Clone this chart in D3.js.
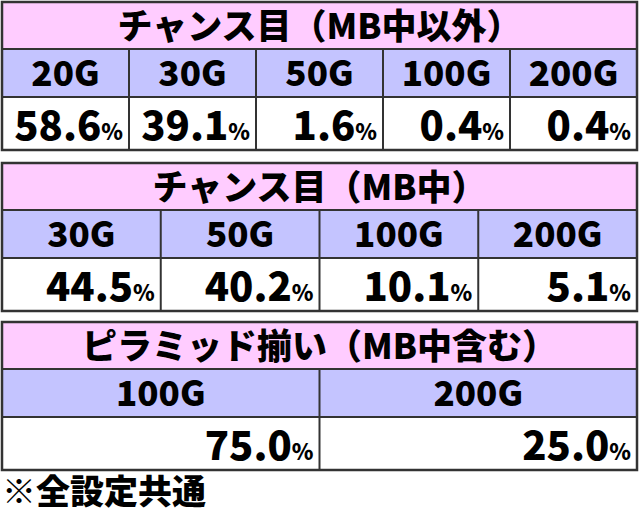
<!DOCTYPE html><html><head><meta charset="utf-8">
<script src="https://cdn.jsdelivr.net/npm/d3@7"></script>
<style>body{margin:0;background:#fff}</style></head><body>
<svg id="c" width="640" height="515"></svg>
<script>
const titles=["チャンス目（MB中以外）","チャンス目（MB中）","ピラミッド揃い（MB中含む）"];
const cats1=["20G","30G","50G","100G","200G"], vals1=[58.6,39.1,1.6,0.4,0.4];
const cats2=["30G","50G","100G","200G"], vals2=[44.5,40.2,10.1,5.1];
const cats3=["100G","200G"], vals3=[75.0,25.0];
const tops=[2,163,322];
const note="※全設定共通";
const svg=d3.select("#c");
const font="'Noto Sans CJK JP','Noto Sans',sans-serif";
const x=d3.scaleLinear().domain([0,1]).range([2,637]);
const tables=[[cats1,vals1],[cats2,vals2],[cats3,vals3]];
tables.forEach(([cats,vals],i)=>{
  const y0=tops[i];
  const g=svg.append("g");
  const band=d3.scaleBand().domain(cats).range([x(0),x(1)]);
  const rows=[y0,y0+47,y0+95,y0+148];
  g.append("rect").attr("x",x(0)).attr("y",rows[0]).attr("width",x(1)-x(0)).attr("height",rows[1]-rows[0]).attr("fill","#ffccff");
  g.append("rect").attr("x",x(0)).attr("y",rows[1]).attr("width",x(1)-x(0)).attr("height",rows[2]-rows[1]).attr("fill","#c4c4ff");
  g.append("rect").attr("x",x(0)).attr("y",rows[2]).attr("width",x(1)-x(0)).attr("height",rows[3]-rows[2]).attr("fill","#fff");
  g.append("text").attr("x",(x(0)+x(1))/2).attr("y",rows[0]+37).attr("text-anchor","middle")
    .attr("font-family",font).attr("font-weight",900).attr("font-size",35).text(titles[i]);
  cats.forEach((c,j)=>{
    const bx=band(c),bw=band.bandwidth();
    g.append("text").attr("x",bx+bw/2).attr("y",rows[1]+37).attr("text-anchor","middle")
      .attr("font-family",font).attr("font-weight",900).attr("font-size",35).text(c);
    const t=g.append("text").attr("x",bx+bw-6).attr("y",rows[2]+43).attr("text-anchor","end")
      .attr("font-family",font).attr("font-weight",900);
    t.append("tspan").attr("font-size",40).text(vals[j].toFixed(1));
    t.append("tspan").attr("font-size",22).text("%");
    if(j>0) g.append("line").attr("x1",bx).attr("x2",bx).attr("y1",rows[1]).attr("y2",rows[3]).attr("stroke","#333").attr("stroke-width",2);
  });
  [rows[1],rows[2]].forEach(r=>g.append("line").attr("x1",x(0)).attr("x2",x(1)).attr("y1",r).attr("y2",r).attr("stroke","#333").attr("stroke-width",2));
  g.append("rect").attr("x",x(0)).attr("y",rows[0]).attr("width",x(1)-x(0)).attr("height",rows[3]-rows[0]).attr("fill","none").attr("stroke","#333").attr("stroke-width",2.5);
});
svg.append("text").attr("x",2).attr("y",504).attr("font-family",font).attr("font-weight",900).attr("font-size",34).text(note);
</script></body></html>
